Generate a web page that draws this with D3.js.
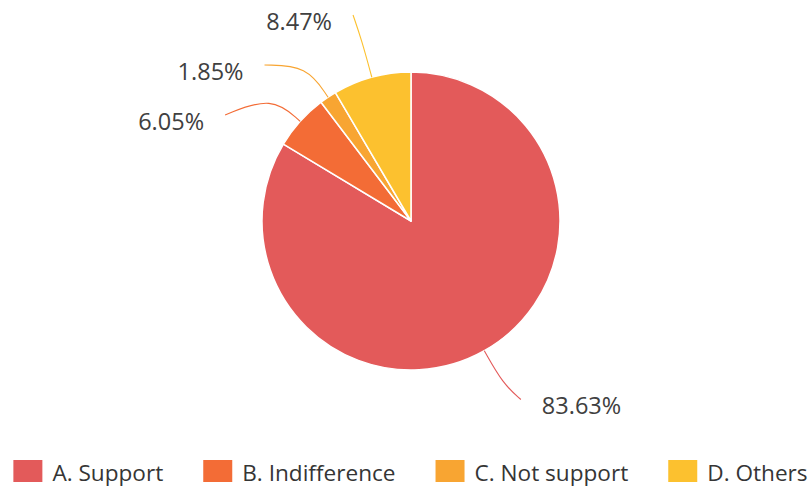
<!DOCTYPE html>
<html>
<head>
<meta charset="utf-8">
<script src="https://cdn.jsdelivr.net/npm/d3@7/dist/d3.min.js"></script>
<style>
  html, body { margin: 0; padding: 0; background: #fff; }
  svg { display: block; }
  text { font-family: "Open Sans", "Noto Sans", sans-serif; }
</style>
</head>
<body>
<svg id="chart" width="811" height="489"></svg>
<script>
// Survey answers and their shares (%)
const categories = ["A. Support", "B. Indifference", "C. Not support", "D. Others"];
const values = [83.63, 6.05, 1.85, 8.47];
const colors = ["#e35a5a", "#f36c36", "#f8a532", "#fcc12f"];

const W = 811, H = 489;
const cx = 411, cy = 221, radius = 149;
const len1 = 56, len2 = 9;           // label ring offsets
const bendLen = 38;                  // where the leader line bends
const labelGap = 21;                 // space between line end and text
const minLabelSpacing = 50;          // vertical spacing of stacked labels
const labelTop = 15;                 // highest allowed line end

const svg = d3.select("#chart");
const data = categories.map((c, i) => ({ name: c, value: values[i], color: colors[i] }));

const pie = d3.pie().value(d => d.value).sort(null);
const arcs = pie(data);
const arc = d3.arc().innerRadius(0).outerRadius(radius);

const g = svg.append("g").attr("transform", `translate(${cx},${cy})`);

g.selectAll("path.slice")
  .data(arcs)
  .join("path")
  .attr("class", "slice")
  .attr("d", arc)
  .attr("fill", d => d.data.color)
  .attr("stroke", "#fff")
  .attr("stroke-width", 1.5)
  .attr("stroke-linejoin", "round");

// Label layout: labels sit on a ring outside the pie, overlapping ones are spread apart
const R1 = radius + len1, R2 = R1 + len2, Rb = radius + bendLen;
const labels = arcs.map(a => {
  const mid = (a.startAngle + a.endAngle) / 2;
  const sx = Math.sin(mid), sy = -Math.cos(mid);
  return {
    a, mid,
    side: sx < 0 ? -1 : 1,
    p0: [radius * sx, radius * sy],
    pb: [Rb * sx, Rb * sy],
    p1: [R1 * sx, R1 * sy],
    y: R1 * sy,
    shifted: false
  };
});

[-1, 1].forEach(side => {
  const list = labels.filter(l => l.side === side).sort((a, b) => a.y - b.y);
  if (list.length < 2) return;
  let overlap = false;
  for (let i = 1; i < list.length; i++) if (list[i].y - list[i - 1].y < minLabelSpacing) overlap = true;
  if (!overlap) return;
  const mean = d3.mean(list, l => l.y);
  const start = mean - (list.length - 1) * minLabelSpacing / 2;
  list.forEach((l, i) => { l.y = start + i * minLabelSpacing; l.shifted = true; });
  const topLimit = labelTop - cy;
  if (list[0].y < topLimit) {
    const d = topLimit - list[0].y;
    list.forEach(l => { l.y += d; });
  }
});

labels.forEach(l => {
  if (l.shifted) {
    const dy = Math.min(Math.abs(l.y), R2);
    l.p2 = [l.side * Math.sqrt(R2 * R2 - dy * dy), l.y];
  } else {
    l.p2 = [l.p1[0] + l.side * len2, l.p1[1]];
  }
});

const lineGen = d3.line().curve(d3.curveBasis);

g.selectAll("path.leader")
  .data(labels)
  .join("path")
  .attr("class", "leader")
  .attr("d", l => lineGen([l.p0, l.pb, l.p2]))
  .attr("fill", "none")
  .attr("stroke", l => l.a.data.color)
  .attr("stroke-width", 1.1);

g.selectAll("text.pct")
  .data(labels)
  .join("text")
  .attr("class", "pct")
  .attr("x", l => l.p2[0] + l.side * labelGap)
  .attr("y", l => l.p2[1] + 15)
  .attr("text-anchor", l => l.side < 0 ? "end" : "start")
  .attr("font-size", 23.5)
  .attr("fill", "#404040")
  .text(l => d3.format(".2f")(l.a.data.value) + "%");

// Legend along the bottom
const itemW = 29, itemH = 22, textOff = 10, itemGap = 40, legendShift = 5;
const legend = svg.append("g");
const items = legend.selectAll("g.item")
  .data(data)
  .join("g")
  .attr("class", "item");

items.append("rect")
  .attr("y", 460)
  .attr("width", itemW)
  .attr("height", itemH)
  .attr("fill", d => d.color);

items.append("text")
  .attr("x", itemW + textOff)
  .attr("y", 481)
  .attr("font-size", 22.6)
  .attr("fill", "#353535")
  .text(d => d.name);

let widths = [];
items.each(function () {
  widths.push(itemW + textOff + d3.select(this).select("text").node().getComputedTextLength());
});
const total = d3.sum(widths) + itemGap * (widths.length - 1);
let x0 = (W - total) / 2 + legendShift;
items.attr("transform", (d, i) => {
  const t = `translate(${x0},0)`;
  x0 += widths[i] + itemGap;
  return t;
});
</script>
</body>
</html>
